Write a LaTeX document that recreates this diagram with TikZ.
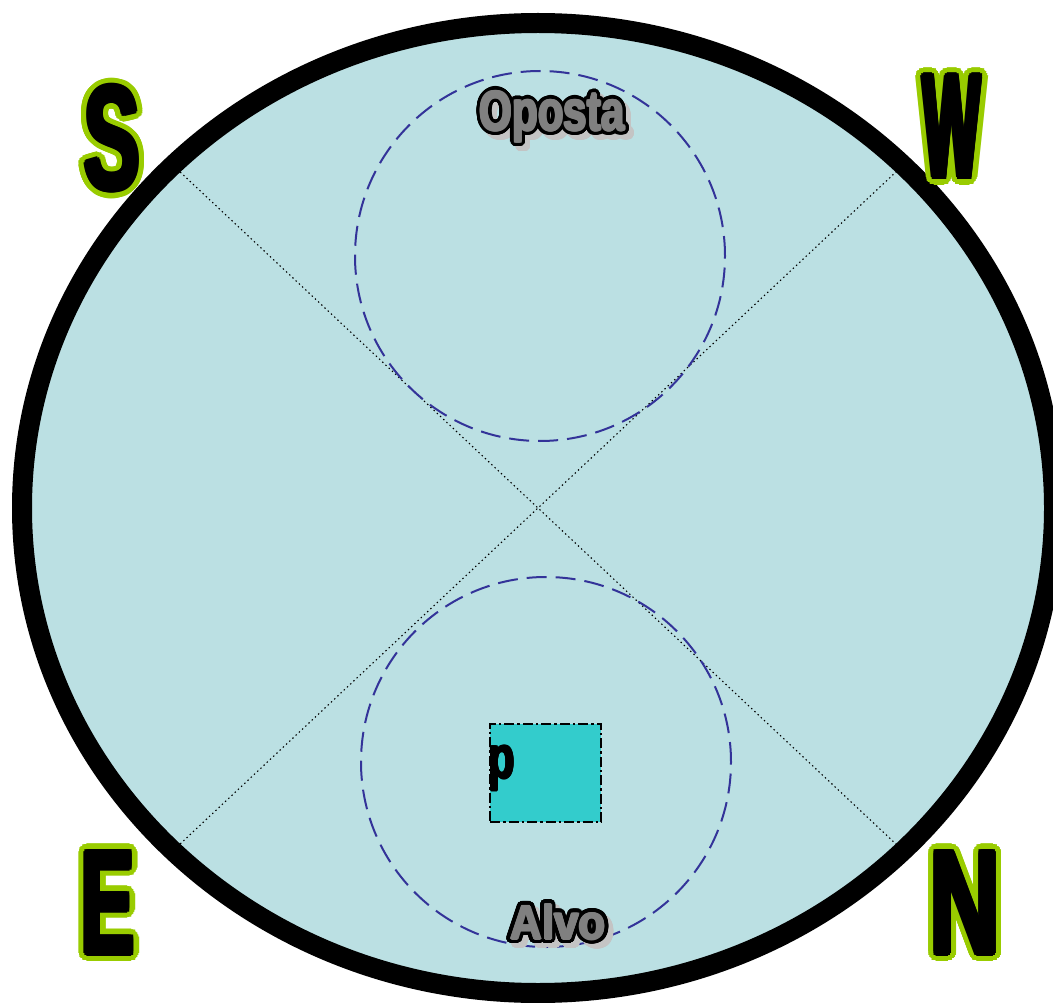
\documentclass[tikz,border=0pt]{standalone}
\usepackage{fontspec}
\setmainfont{Liberation Sans}
\usetikzlibrary{calc}
\definecolor{bgfill}{RGB}{187,224,227}
\definecolor{sqfill}{RGB}{51,204,204}
\definecolor{dashblue}{RGB}{51,51,153}
\definecolor{halogreen}{RGB}{153,204,0}
\definecolor{lblgray}{RGB}{128,128,128}
\definecolor{shadowgray}{RGB}{196,196,196}
\newbox\myoutbox
\newbox\mythkbox
% horizontally condensed bold text
\newcommand\cond[2]{{\fontspec{Liberation Sans}[FakeStretch=#1]\bfseries #2}}
% thicken text by overlapping copies (no colour change)
\newcommand\thickit[2]{%
  \setbox\mythkbox=\hbox{#2}%
  \foreach \ang in {0,45,...,315}{%
    \pgfmathsetlengthmacro\mydx{#1*cos(\ang)}%
    \pgfmathsetlengthmacro\mydy{#1*sin(\ang)}%
    \rlap{\kern\mydx\raise\mydy\copy\mythkbox}}%
  \copy\mythkbox}
% outlined text: #1 outline colour, #2 fill colour, #3 radius, #4 text
\newcommand\outl[4]{%
  \setbox\myoutbox=\hbox{#4}%
  \foreach \ang in {0,22.5,...,337.5}{%
    \pgfmathsetlengthmacro\mydx{#3*cos(\ang)}%
    \pgfmathsetlengthmacro\mydy{#3*sin(\ang)}%
    \rlap{\kern\mydx\raise\mydy\hbox{\color{#1}\copy\myoutbox}}}%
  \hbox{\color{#2}\copy\myoutbox}}
\tikzset{
  compass/.style={inner sep=0pt, anchor=base, font=\fontsize{148}{148}\selectfont},
  lbl/.style={inner sep=0pt, anchor=base, font=\fontsize{#1}{#1}\selectfont},
  diag/.style={line width=1.1pt, dash pattern=on 1.4pt off 3pt},
  zone/.style={draw=dashblue, line width=2pt, dash pattern=on 20pt off 9pt},
  target/.style={draw=black, fill=sqfill, line width=2pt, dash pattern=on 10pt off 3pt on 2.5pt off 3pt, minimum width=111pt, minimum height=98pt, inner sep=0pt},
}
\begin{document}
\begin{tikzpicture}[x=1pt,y=-1pt]
\useasboundingbox (0,0) rectangle (1053,1003);
\fill[white] (0,0) rectangle (1053,1003);
% main ellipse
\coordinate (c) at (538,508);
\draw[line width=20pt, fill=bgfill] (c) ellipse [x radius=516pt, y radius=485pt];
% diagonals
\coordinate (tl) at ($(c)+(-357.8,-335.9)$);
\coordinate (tr) at ($(c)+(357.8,-335.9)$);
\coordinate (bl) at ($(c)+(-357.8,335.9)$);
\coordinate (br) at ($(c)+(357.8,335.9)$);
\draw[diag] (tl) -- (br);
\draw[diag] (bl) -- (tr);
% dashed zones
\coordinate (topc) at (540,256);
\coordinate (botc) at (546,762);
\draw[zone] (topc) circle [radius=185pt];
\draw[zone] (botc) circle [radius=185pt];
% target square
\node[target] (box) at (545.5,773) {};
\node[inner sep=0pt, anchor=base, font=\fontsize{60}{60}\selectfont] (p) at (501.5,778) {\thickit{1pt}{\cond{0.72}{p}}};
% labels
\node[lbl=56] (Oshadow) at (557,135.5) {\outl{shadowgray}{shadowgray}{3.5pt}{\thickit{1pt}{\cond{0.75}{Oposta}}}};
\node[lbl=56] (Oposta) at (552,130.5) {\outl{black}{lblgray}{3.5pt}{\thickit{1pt}{\cond{0.75}{Oposta}}}};
\node[lbl=48] (Ashadow) at (563,944) {\outl{shadowgray}{shadowgray}{3.5pt}{\thickit{1pt}{\cond{0.92}{Alvo}}}};
\node[lbl=48] (Alvo) at (558,939) {\outl{black}{lblgray}{3.5pt}{\thickit{1pt}{\cond{0.92}{Alvo}}}};
% compass letters
\node[compass] (S) at (112,189.5) {\outl{halogreen}{black}{5.2pt}{\thickit{2.5pt}{\cond{0.57}{S}}}};
\node[compass] (W) at (952,177.5) {\outl{halogreen}{black}{5.2pt}{\thickit{2.5pt}{\cond{0.41}{W}}}};
\node[compass] (E) at (108,953.5) {\outl{halogreen}{black}{5.2pt}{\thickit{2.5pt}{\cond{0.54}{E}}}};
\node[compass] (N) at (965,953.5) {\outl{halogreen}{black}{5.2pt}{\thickit{2.5pt}{\cond{0.66}{N}}}};
\end{tikzpicture}
\end{document}
